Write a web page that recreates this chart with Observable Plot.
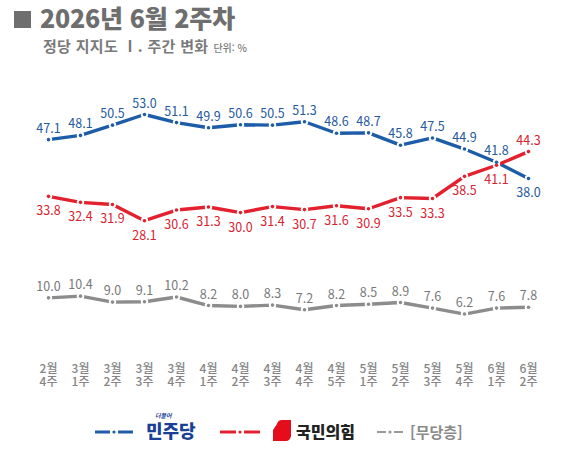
<!DOCTYPE html>
<html lang="ko">
<head>
<meta charset="utf-8">
<script src="https://cdn.jsdelivr.net/npm/d3@7"></script>
<script src="https://cdn.jsdelivr.net/npm/@observablehq/plot@0.6"></script>
<style>
  html, body { margin: 0; padding: 0; background: #fff; }
  body { font-family: "Noto Sans CJK KR", "Noto Sans", sans-serif; }
  #wrap { position: relative; width: 564px; height: 454px; overflow: hidden; }
  #title { position: absolute; left: 14px; top: 0; line-height: 34px; font-size: 25px; font-weight: 800; color: #6e6e6e; letter-spacing: -0.2px; white-space: nowrap; }
  #title .sq { display: inline-block; width: 17px; height: 17px; background: #6e6e6e; margin-right: 9px; vertical-align: 0px; }
  #subtitle { position: absolute; left: 43px; top: 35px; font-size: 15px; font-weight: 700; color: #7a7a7a; letter-spacing: 0.3px; white-space: nowrap; }
  #subtitle .unit { font-size: 10px; font-weight: 500; margin-left: 5px; letter-spacing: 0; }
  #chart { position: absolute; left: 0; top: 55px; }
  #legend { position: absolute; left: 0; top: 412px; width: 564px; height: 40px; }
</style>
</head>
<body>
<div id="wrap">
  <div id="title"><span class="sq"></span>2026년 6월 2주차</div>
  <div id="subtitle">정당 지지도 Ⅰ. 주간 변화<span class="unit">단위: %</span></div>
  <div id="chart"></div>
  <svg id="legend" width="564" height="40"></svg>
</div>
<script>
// 조사 주차
const weeks = ["2월 4주","3월 1주","3월 2주","3월 3주","3월 4주","4월 1주","4월 2주","4월 3주",
               "4월 4주","4월 5주","5월 1주","5월 2주","5월 3주","5월 4주","6월 1주","6월 2주"];
// 정당별 지지도 (%)
const minjoo = [47.1,48.1,50.5,53.0,51.1,49.9,50.6,50.5,51.3,48.6,48.7,45.8,47.5,44.9,41.8,38.0];
const ppp    = [33.8,32.4,31.9,28.1,30.6,31.3,30.0,31.4,30.7,31.6,30.9,33.5,33.3,38.5,41.1,44.3];
const noParty = [10.0,10.4,9.0,9.1,10.2,8.2,8.0,8.3,7.2,8.2,8.5,8.9,7.6,6.2,7.6,7.8];

const BLUE = "#1c5ca8", RED = "#e3202e", GRAY = "#8c8c8c";
const BLUE_TXT = "#24599d", RED_TXT = "#d8222f", GRAY_TXT = "#787878";

const series = [
  {name: "민주당", values: minjoo, color: BLUE, text: BLUE_TXT, above: i => i !== 15},
  {name: "국민의힘", values: ppp, color: RED, text: RED_TXT, above: i => i === 15},
  {name: "무당층", values: noParty, color: GRAY, text: GRAY_TXT, above: () => true}
];

const rows = series.flatMap(s => s.values.map((v, i) => ({
  week: weeks[i], party: s.name, value: v, color: s.color, text: s.text, above: s.above(i)
})));

const marks = [];
for (const s of series) {
  const data = rows.filter(d => d.party === s.name);
  marks.push(Plot.line(data, {x: "week", y: "value", stroke: s.color, strokeWidth: 3.4}));
}
// gap around each point, then the point itself
marks.push(Plot.dot(rows, {x: "week", y: "value", r: 3.7, fill: "#fff", stroke: "none"}));
marks.push(Plot.dot(rows, {x: "week", y: "value", r: 1.8, fill: "color", stroke: "none"}));
// value labels
marks.push(Plot.text(rows.filter(d => d.above), {
  x: "week", y: "value", text: d => d.value.toFixed(1), fill: "text", dy: -11, fontSize: 12.5
}));
marks.push(Plot.text(rows.filter(d => !d.above), {
  x: "week", y: "value", text: d => d.value.toFixed(1), fill: "text", dy: 15, fontSize: 12.5
}));
// two-line week labels: month on top, week below
marks.push(Plot.axisX({
  label: null, tickSize: 0, tickPadding: 24, fill: "#858585", fontWeight: 500,
  tickFormat: d => d.split(" ")[0]
}));
marks.push(Plot.axisX({
  label: null, tickSize: 0, tickPadding: 37, fill: "#858585", fontWeight: 500,
  tickFormat: d => d.split(" ")[1]
}));

const chart = Plot.plot({
  width: 564, height: 345,
  marginLeft: 44, marginRight: 32, marginTop: 59, marginBottom: 60,
  style: {fontFamily: '"Noto Sans CJK KR", sans-serif', fontSize: "12px", background: "transparent"},
  x: {type: "point", domain: weeks, padding: 0, axis: null},
  y: {domain: [0, 53], axis: null},
  color: {type: "identity"},
  marks
});
document.getElementById("chart").append(chart);

// legend
const lg = d3.select("#legend");
function sample(x0, x1, color, w) {
  const mid = (x0 + x1) / 2;
  lg.append("line").attr("x1", x0).attr("x2", mid - 4).attr("y1", 20).attr("y2", 20).attr("stroke", color).attr("stroke-width", w);
  lg.append("line").attr("x1", mid + 4).attr("x2", x1).attr("y1", 20).attr("y2", 20).attr("stroke", color).attr("stroke-width", w);
  lg.append("circle").attr("cx", mid).attr("cy", 20).attr("r", 1.6).attr("fill", color);
}
sample(95, 133, BLUE, 3);
lg.append("text").attr("x", 155).attr("y", 6).attr("font-size", 6).attr("fill", "#1b3f95")
  .attr("font-family", '"Noto Sans CJK KR"').attr("font-weight", 700).attr("font-style", "italic").text("더불어");
lg.append("text").attr("x", 146).attr("y", 26).attr("font-size", 18).attr("fill", "#1b3f95")
  .attr("font-family", '"Noto Sans CJK KR"').attr("font-weight", 900).text("민주당");
sample(220, 260, RED, 3);
lg.append("path").attr("d", "M277,12 Q278,8 282,8 L291,8 L291,24 Q290,29 286,29 L273,29 L273,18 Z").attr("fill", "#e50d1c");
lg.append("text").attr("x", 296).attr("y", 26).attr("font-size", 16).attr("fill", "#222")
  .attr("font-family", '"Noto Sans CJK KR"').attr("font-weight", 900).text("국민의힘");
sample(377, 403, "#9a9a9a", 2);
lg.append("text").attr("x", 410).attr("y", 26).attr("font-size", 15).attr("fill", "#8a8a8a")
  .attr("font-family", '"Noto Sans CJK KR"').attr("font-weight", 700).text("[무당층]");
</script>
</body>
</html>
